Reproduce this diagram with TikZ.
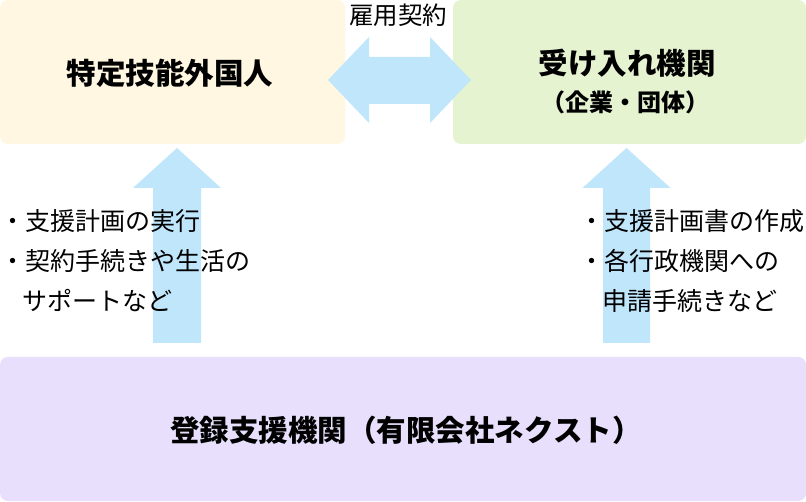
\documentclass[tikz,border=0pt]{standalone}
\usepackage{fontspec}
\setmainfont{Noto Sans CJK JP}
\newfontfamily\jp{Noto Sans CJK JP}
\definecolor{boxyellow}{HTML}{FFF7E1}
\definecolor{boxgreen}{HTML}{E5F3D1}
\definecolor{boxpurple}{HTML}{E7DFFC}
\definecolor{arrowblue}{HTML}{C0E6FC}
\tikzset{
  panel/.style={rounded corners=8pt, draw=none},
  titletext/.style={font=\jp\bfseries\fontsize{29.5}{33}\selectfont, inner sep=0pt},
  subtext/.style={font=\jp\bfseries\fontsize{24}{28}\selectfont, inner sep=0pt},
  listtext/.style={font=\jp\fontsize{25}{29}\selectfont, inner sep=0pt, anchor=west},
  blockarrow/.style={fill=arrowblue, draw=none}
}
\begin{document}
\begin{tikzpicture}[x=1pt,y=-1pt]
\useasboundingbox (0,0) rectangle (806,502);
\fill[white] (0,0) rectangle (806,502);
% panels
\fill[boxyellow, panel] (0,0) rectangle (345,144);
\fill[boxgreen, panel] (453,0) rectangle (806,144);
\fill[boxpurple, panel] (0,357) rectangle (806,501);
% double arrow
\fill[blockarrow] (328,80) -- (369,37) -- (369,57) -- (430,57) -- (430,37) -- (471,80)
  -- (430,123) -- (430,104) -- (369,104) -- (369,123) -- cycle;
% vertical arrows
\fill[blockarrow] (177,148) -- (221,188) -- (201,188) -- (201,343) -- (153,343) -- (153,188) -- (133,188) -- cycle;
\fill[blockarrow] (626.5,148) -- (670.5,188) -- (650,188) -- (650,343) -- (603,343) -- (603,188) -- (582.5,188) -- cycle;
% texts
\node[titletext] (worker) at (170,73) {特定技能外国人};
\node[titletext] (host) at (627,63) {受け入れ機関};
\node[subtext] (hostsub) at (625,102) {（企業・団体）};
\node[titletext] (support) at (406,430) {登録支援機関（有限会社ネクスト）};
\node[font=\jp\fontsize{24.5}{28}\selectfont, inner sep=0pt] (contract) at (398,15) {雇用契約};
% left list
\node[listtext] (l1) at (0,221) {・支援計画の実行};
\node[listtext] (l2) at (0,261) {・契約手続きや生活の};
\node[listtext] (l3) at (22,301) {サポートなど};
% right list
\node[listtext] (r1) at (579,221) {・支援計画書の作成};
\node[listtext] (r2) at (579,261) {・各行政機関への};
\node[listtext] (r3) at (602,301) {申請手続きなど};
\end{tikzpicture}
\end{document}
